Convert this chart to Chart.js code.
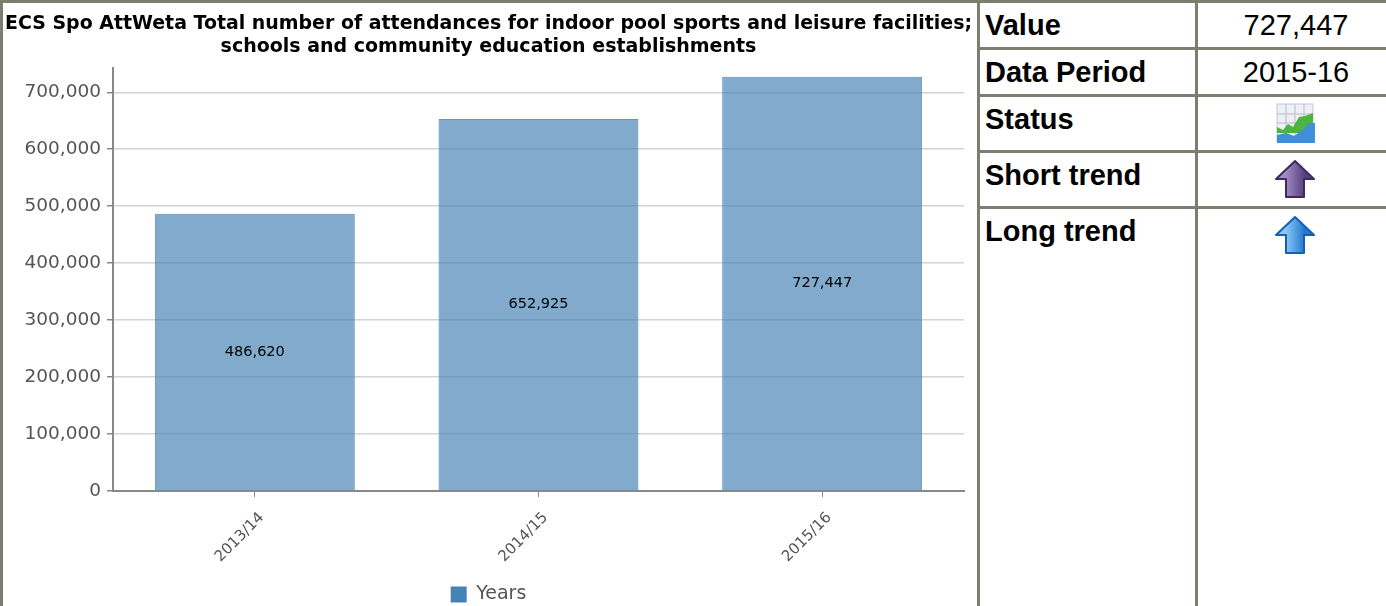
<!DOCTYPE html>
<html>
<head>
<meta charset="utf-8">
<title>ECS Spo AttWeta</title>
<script src="https://cdn.jsdelivr.net/npm/chart.js@4"></script>
<style>
  html, body { margin: 0; padding: 0; background: #fff; overflow: hidden; }
  #page { position: relative; width: 1386px; height: 606px; overflow: hidden; }
  #chartBox { position: absolute; left: 3px; top: 3px; width: 974px; height: 603px; }
  .line { position: absolute; background: #7d7d70; }
  .cell { position: absolute; font-family: "Liberation Sans", Arial, sans-serif; font-size: 29px; color: #000; }
  .name { left: 985px; font-weight: bold; }
  .val { left: 1202px; width: 188px; text-align: center; }
  .icon { position: absolute; left: 1274px; }
</style>
</head>
<body>
<div id="page">
  <div id="chartBox"><canvas id="myChart" width="974" height="603"></canvas></div>

  <div class="line" style="left:0;top:0;width:1386px;height:3px"></div>
  <div class="line" style="left:0;top:0;width:3px;height:606px"></div>
  <div class="line" style="left:977px;top:0;width:3px;height:606px"></div>
  <div class="line" style="left:1195px;top:0;width:3px;height:606px"></div>
  <div class="line" style="left:980px;top:47px;width:406px;height:3px"></div>
  <div class="line" style="left:980px;top:94px;width:406px;height:3px"></div>
  <div class="line" style="left:980px;top:150px;width:406px;height:3px"></div>
  <div class="line" style="left:980px;top:206px;width:406px;height:3px"></div>

  <div class="cell name" style="top:9px">Value</div>
  <div class="cell val" style="top:9px">727,447</div>
  <div class="cell name" style="top:56px">Data Period</div>
  <div class="cell val" style="top:56px">2015-16</div>
  <div class="cell name" style="top:103px">Status</div>
  <div class="cell name" style="top:159px">Short trend</div>
  <div class="cell name" style="top:215px">Long trend</div>

  <svg class="icon" style="top:103px" width="42" height="42" viewBox="0 0 42 42">
    <rect x="3" y="1" width="36" height="38" fill="#eef0f5" stroke="#c4c8d2"/>
    <path d="M12 1V39M21 1V39M30 1V39M3 11H39M3 20H39" stroke="#b9bdca" fill="none"/>
    <path d="M3 24L9 27L14 21L19 24L25 14L31 13L39 10V30H3Z" fill="#4cb53c"/>
    <path d="M3 32L12 30L20 33L30 26L34 20L41 20V40H3Z" fill="#3f8fdc"/>
  </svg>
  <svg class="icon" style="top:159px" width="42" height="40" viewBox="0 0 42 40">
    <defs><linearGradient id="purple" x1="0" x2="1" y1="0" y2="0"><stop offset="0.25" stop-color="#a58ac8"/><stop offset="0.75" stop-color="#54407c"/></linearGradient></defs>
    <path d="M21 2L40 20H30V38H12V20H2Z" fill="url(#purple)" stroke="#3c2c5c" stroke-width="2" stroke-linejoin="round"/>
  </svg>
  <svg class="icon" style="top:215px" width="42" height="40" viewBox="0 0 42 40">
    <defs><linearGradient id="blue" x1="0" x2="1" y1="0" y2="0"><stop offset="0.25" stop-color="#8cc8f6"/><stop offset="0.75" stop-color="#2278d0"/></linearGradient></defs>
    <path d="M21 2L40 20H30V38H12V20H2Z" fill="url(#blue)" stroke="#1560b0" stroke-width="2" stroke-linejoin="round"/>
  </svg>
</div>

<script>
const titleLines = [
  "ECS Spo AttWeta Total number of attendances for indoor pool sports and leisure facilities;",
  "schools and community education establishments"
];
const categories = ["2013/14", "2014/15", "2015/16"];
const seriesName = "Years";
const values = [486620, 652925, 727447];
const yTicks = [0, 100000, 200000, 300000, 400000, 500000, 600000, 700000];
const axisTop = 742000;

const fmt = v => Number(v).toLocaleString("en-GB");

// value written in the middle of each bar
const barLabels = {
  id: "barLabels",
  afterDatasetsDraw(chart) {
    const ctx = chart.ctx;
    ctx.save();
    ctx.font = "14.5px 'DejaVu Sans'";
    ctx.fillStyle = "#000";
    ctx.textAlign = "center";
    ctx.textBaseline = "middle";
    chart.getDatasetMeta(0).data.forEach((bar, i) => {
      const mid = (bar.y + bar.base) / 2;
      ctx.fillText(fmt(values[i]), bar.x, mid);
    });
    ctx.restore();
  }
};

new Chart(document.getElementById("myChart"), {
  type: "bar",
  plugins: [barLabels],
  data: {
    labels: categories,
    datasets: [{
      label: seriesName,
      data: values,
      backgroundColor: "rgba(70,130,180,0.68)",
      hoverBackgroundColor: "rgba(70,130,180,0.68)",
      borderColor: "rgba(70,130,180,0.85)",
      borderWidth: 1,
      barPercentage: 0.705,
      categoryPercentage: 1
    }]
  },
  options: {
    responsive: false,
    animation: false,
    layout: { padding: { top: 9, right: 5, bottom: -8, left: 2 } },
    plugins: {
      title: {
        display: true,
        text: titleLines,
        color: "#000",
        font: { family: "'DejaVu Sans'", size: 19, weight: "bold", lineHeight: 1.22 },
        padding: { top: 0, bottom: 10 }
      },
      legend: {
        position: "bottom",
        labels: {
          color: "#555",
          font: { family: "'DejaVu Sans'", size: 19 },
          boxWidth: 16,
          boxHeight: 16,
          padding: 4,
          generateLabels: () => [{ text: seriesName, fillStyle: "#4682b4", strokeStyle: "#4682b4", lineWidth: 0, fontColor: "#555" }]
        }
      },
      tooltip: { enabled: false }
    },
    scales: {
      x: {
        afterFit: axis => { axis.height = 90; },
        grid: { drawOnChartArea: false, color: "#888", tickLength: 6, offset: false },
        border: { color: "#888", width: 2 },
        ticks: { color: "#555", font: { family: "'DejaVu Sans'", size: 15 }, minRotation: 45, maxRotation: 45, padding: 12, labelOffset: 7 }
      },
      y: {
        min: 0,
        max: axisTop,
        afterBuildTicks: axis => { axis.ticks = yTicks.map(value => ({ value })); },
        grid: { color: "#d4d4d4", lineWidth: 1.5, tickColor: "#888", tickLength: 6 },
        border: { color: "#888", width: 2 },
        afterFit: axis => { axis.width = 108; },
        ticks: { color: "#555", font: { family: "'DejaVu Sans'", size: 18.5 }, padding: 6, callback: v => fmt(v) }
      },
      // empty scale on the right, keeps the plot narrower than the title
      spacer: {
        position: "right",
        grid: { display: false },
        border: { display: false },
        ticks: { display: false },
        afterFit: axis => { axis.width = 8; }
      }
    }
  }
});
</script>
</body>
</html>
